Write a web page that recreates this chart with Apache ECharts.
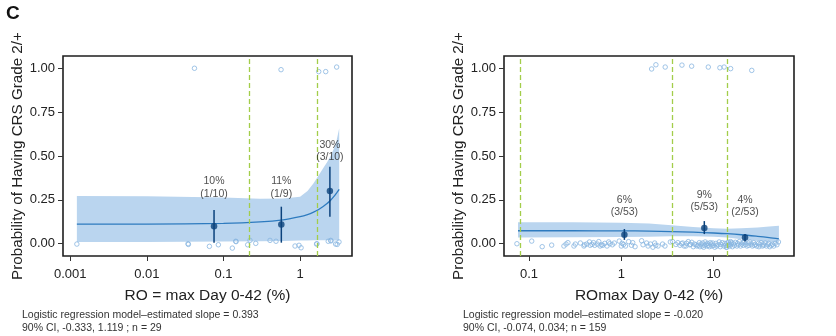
<!DOCTYPE html>
<html><head><meta charset="utf-8">
<script src="https://cdn.jsdelivr.net/npm/echarts@6/dist/echarts.min.js"></script>
<style>html,body{margin:0;padding:0;background:#fff;}#c{width:836px;height:336px;}</style>
</head><body><div id="c"></div>
<script>
// ---------- Panel 1 (left): RO = max Day 0-42 (%) ----------
const leftTicks = [0.001, 0.01, 0.1, 1];
const leftTickLabels = ['0.001', '0.01', '0.1', '1'];
const leftZeroX = [0.00122, 0.0345, 0.0348, 0.0655, 0.0857, 0.1305, 0.1445, 0.146, 0.207, 0.222, 0.264, 0.405, 0.485, 0.859, 0.968, 1.03, 1.64, 1.66, 2.33, 2.51, 2.53, 2.91, 3.22, 3.05];
const leftZeroY = [-0.002, 0.0, -0.004, -0.015, -0.006, -0.025, 0.014, 0.012, -0.006, 0.019, 0.002, 0.019, 0.014, -0.013, -0.009, -0.023, -0.002, 0.0, 0.014, 0.019, 0.016, -0.002, 0.01, -0.004];
const leftOneX = [0.0418, 0.564, 1.75, 2.16, 3.0];
const leftOneY = [1.0, 0.992, 0.981, 0.981, 1.007];
const leftFitX = [0.00122, 0.01, 0.1, 0.3, 0.6, 1.0, 1.25, 1.5, 1.75, 2.0, 2.25, 2.5, 2.75, 3.0, 3.24];
const leftFitY = [0.112, 0.112, 0.116, 0.124, 0.136, 0.154, 0.166, 0.180, 0.195, 0.212, 0.229, 0.248, 0.268, 0.290, 0.31];
const leftUpper = [0.272, 0.27, 0.264, 0.256, 0.258, 0.268, 0.30, 0.345, 0.39, 0.43, 0.465, 0.50, 0.54, 0.59, 0.658];
const leftLower = [0.010, 0.010, 0.012, 0.014, 0.016, 0.018, 0.019, 0.02, 0.02, 0.02, 0.02, 0.02, 0.019, 0.018, 0.017];
const leftBinX = [0.0753, 0.569, 2.45];
const leftBinY = [0.099, 0.11, 0.30];
const leftBinLo = [0.006, 0.006, 0.154];
const leftBinHi = [0.192, 0.211, 0.439];
const leftBinPct = ['10%', '11%', '30%'];
const leftBinFrac = ['(1/10)', '(1/9)', '(3/10)'];
const leftLabelY = [0.32, 0.32, 0.527];
const leftCuts = [0.2244, 1.675];

// ---------- Panel 2 (right): ROmax Day 0-42 (%) ----------
const rightTicks = [0.1, 1, 10];
const rightTickLabels = ['0.1', '1', '10'];
const rightZeroPts = [
 [0.074,0.0],[0.107,0.015],[0.139,-0.017],[0.176,-0.008],[0.239,-0.013],[0.252,-0.002],[0.264,0.006],[0.307,-0.013],[0.318,-0.002],[0.36,0.004],
 [0.394,-0.013],[0.40,-0.006],[0.422,-0.002],[0.452,0.01],[0.46,-0.009],[0.482,-0.004],[0.50,0.006],[0.515,-0.009],[0.552,-0.002],[0.57,0.012],
 [0.589,-0.013],[0.61,-0.006],[0.629,-0.009],[0.662,0.002],[0.70,-0.013],[0.73,0.01],[0.75,0.0],[0.80,-0.006],[0.84,0.004],[0.95,0.015],
 [1.00,-0.013],[1.02,0.002],[1.06,-0.004],[1.11,-0.013],[1.20,0.012],[1.29,-0.009],[1.33,0.006],[1.41,-0.017],[1.66,0.017],[1.72,-0.006],
 [1.88,0.004],[1.95,-0.013],[2.07,-0.002],[2.20,-0.02],[2.30,0.004],[2.36,-0.009],[2.50,-0.013],[2.80,-0.002],[2.97,-0.013],[3.40,0.010],
 [3.6,0.012],[3.9,-0.004],[4.1,0.006],[4.32,-0.009],[4.5,0.0],[4.62,0.004],[4.8,-0.013],[5.01,-0.013],[5.1,0.002],[5.31,0.012],
 [5.5,-0.006],[5.64,-0.004],[5.8,0.008],[6.02,-0.017],[6.2,-0.002],[6.44,-0.006],[6.6,-0.013],[6.82,-0.009],[7.0,0.006],[7.1,-0.017],
 [7.3,-0.002],[7.5,-0.013],[7.6,0.004],[7.8,-0.02],[8.0,-0.009],[8.1,0.01],[8.27,-0.004],[8.5,-0.013],[8.6,0.002],[8.76,-0.009],
 [9.0,-0.017],[9.2,0.006],[9.37,-0.002],[9.6,-0.013],[9.8,0.004],[10.0,-0.009],[10.3,-0.02],[10.6,0.002],[10.8,-0.013],[11.2,-0.006],
 [11.5,0.01],[11.8,-0.017],[12.0,-0.004],[12.4,0.006],[12.9,-0.013],[13.2,0.002],[13.5,-0.009],[13.7,-0.02],
 [13.9,-0.02],[14.0,0.004],[14.2,-0.009],[14.5,0.008],[14.8,-0.004],[15.0,-0.013],[15.3,0.012],[15.5,-0.002],[15.7,0.006],[16.0,-0.017],
 [16.4,0.0],[16.8,-0.009],[17.2,0.008],[17.9,-0.013],[18.2,0.002],[18.5,-0.006],[19.0,0.012],[19.6,-0.013],[20.2,-0.002],[20.8,0.006],
 [21.0,-0.009],[21.5,0.01],[22.2,-0.004],[23.0,-0.013],[23.8,0.004],[24.0,-0.009],[24.7,0.01],[25.5,-0.002],[26.3,-0.013],[27.2,0.006],
 [27.5,-0.009],[28.2,-0.004],[29.3,-0.013],[30.6,0.002],[31.0,-0.017],[31.6,-0.006],[32.7,0.006],[33.8,-0.013],[34.5,-0.002],[35.0,-0.009],
 [36.2,0.004],[37.3,-0.013],[38.8,-0.006],[39.5,0.002],[40.6,-0.017],[42.0,-0.009],[43.4,-0.004],[44.8,-0.013],[46.4,0.002],[48.5,-0.006],[50.4,0.010]
];
const rightOneX = [2.13, 2.37, 2.99, 4.54, 5.78, 8.76, 11.7, 13.0, 15.3, 25.9];
const rightOneY = [0.996, 1.02, 1.007, 1.018, 1.012, 1.007, 1.003, 1.007, 0.998, 0.988];
const rightFitX = [0.076, 0.3, 1, 2, 3.5, 6, 10, 14, 20, 30, 40, 51];
const rightFitY = [0.074, 0.074, 0.073, 0.072, 0.069, 0.066, 0.061, 0.057, 0.051, 0.042, 0.035, 0.028];
const rightUpper = [0.122, 0.122, 0.12, 0.115, 0.105, 0.095, 0.088, 0.086, 0.088, 0.093, 0.098, 0.103];
const rightLower = [0.036, 0.037, 0.038, 0.04, 0.042, 0.043, 0.040, 0.035, 0.026, 0.016, 0.011, 0.007];
const rightBinX = [1.08, 7.93, 21.9];
const rightBinY = [0.051, 0.09, 0.035];
const rightBinLo = [0.022, 0.055, 0.012];
const rightBinHi = [0.084, 0.129, 0.055];
const rightBinPct = ['6%', '9%', '4%'];
const rightBinFrac = ['(3/53)', '(5/53)', '(2/53)'];
const rightLabelY = [0.213, 0.242, 0.213];
const rightCuts = [0.080, 3.54, 13.9];

const yTicks = [0, 0.25, 0.5, 0.75, 1];

// ---------- styling ----------
const FONT = "'Liberation Sans', Arial, sans-serif";
const C_BAND = '#bad5ef', C_LINE = '#2e7bbf', C_PT = '#8ab6e1', C_DOT = '#0b427c', C_CUT = '#a3cd4a';

function zip(a, b) { return a.map((v, i) => [v, b[i]]); }

function makeX(idx, min, max, ticks, labels, name) {
  return {
    type: 'log', logBase: 10, gridIndex: idx, min: min, max: max,
    name: name, nameLocation: 'middle', nameGap: 32,
    nameTextStyle: { fontFamily: FONT, fontSize: 15.5, color: '#222' },
    axisLine: { show: false, onZero: false },
    splitLine: { show: false },
    minorTick: { show: false },
    axisTick: { show: true, length: 5, customValues: ticks, lineStyle: { color: '#333', width: 1 } },
    axisLabel: {
      customValues: ticks, margin: 12, fontFamily: FONT, fontSize: 13, color: '#222',
      formatter: function (v) {
        let i = ticks.findIndex(t => Math.abs(t - v) / t < 1e-6);
        if (i < 0) i = ticks.findIndex(t => Math.abs(Math.log10(t) - v) < 1e-6);
        return i >= 0 ? labels[i] : '';
      }
    }
  };
}
function makeY(idx) {
  return {
    type: 'value', gridIndex: idx, min: -0.07, max: 1.07,
    name: 'Probability of Having CRS Grade 2/+', nameLocation: 'middle', nameGap: 37,
    nameTextStyle: { fontFamily: FONT, fontSize: 15.2, color: '#222' },
    axisLine: { show: false, onZero: false }, splitLine: { show: false },
    axisTick: { show: true, length: 5, customValues: yTicks, lineStyle: { color: '#333', width: 1 } },
    axisLabel: { customValues: yTicks, margin: 8, fontFamily: FONT, fontSize: 13, color: '#222',
      formatter: v => Number(v).toFixed(2) }
  };
}

function panelSeries(idx, fitX, fitY, upper, lower, cuts, zeroPts, onePts, binX, binY, binLo, binHi, pct, frac, labY) {
  const s = [];
  // confidence band polygon (upper edge forward, lower edge back)
  s.push({ type: 'custom', xAxisIndex: idx, yAxisIndex: idx, data: [[fitX[0], lower[0]]], silent: true, z: 1,
    encode: { x: 0, y: 1 },
    renderItem: function (params, api) {
      const pts = [];
      for (let i = 0; i < fitX.length; i++) pts.push(api.coord([fitX[i], upper[i]]));
      for (let i = fitX.length - 1; i >= 0; i--) pts.push(api.coord([fitX[i], lower[i]]));
      return { type: 'polygon', shape: { points: pts }, style: { fill: C_BAND } };
    } });
  s.push({ type: 'line', xAxisIndex: idx, yAxisIndex: idx, data: zip(fitX, fitY), symbol: 'none', smooth: 0.3,
    lineStyle: { color: C_LINE, width: 1.3 }, silent: true, z: 2,
    markLine: { silent: true, symbol: ['none', 'none'], label: { show: false },
      lineStyle: { color: C_CUT, type: [5, 3], width: 1.3 }, data: cuts.map(c => ({ xAxis: c })) } });
  s.push({ type: 'scatter', xAxisIndex: idx, yAxisIndex: idx, data: zeroPts.concat(onePts), symbol: 'circle', symbolSize: 4.5,
    itemStyle: { color: 'rgba(0,0,0,0)', borderColor: C_PT, borderWidth: 1 }, silent: true, z: 3 });
  s.push({ type: 'custom', xAxisIndex: idx, yAxisIndex: idx, data: binX.map((x, i) => [x, binLo[i], binHi[i]]),
    encode: { x: 0, y: [1, 2] }, z: 4, silent: true,
    renderItem: function (params, api) {
      const a = api.coord([api.value(0), api.value(1)]);
      const b = api.coord([api.value(0), api.value(2)]);
      return { type: 'line', shape: { x1: a[0], y1: a[1], x2: b[0], y2: b[1] }, style: { stroke: C_DOT, lineWidth: 1.5 } };
    } });
  s.push({ type: 'scatter', xAxisIndex: idx, yAxisIndex: idx, data: zip(binX, binY), symbol: 'circle', symbolSize: 6.5,
    itemStyle: { color: C_DOT }, silent: true, z: 5 });
  s.push({ type: 'scatter', xAxisIndex: idx, yAxisIndex: idx, data: zip(binX, labY), symbolSize: 1,
    itemStyle: { color: 'rgba(0,0,0,0)' }, silent: true, z: 6,
    label: { show: true, position: 'inside', fontFamily: FONT, fontSize: 10.5, lineHeight: 12.5, color: '#222',
      formatter: p => pct[p.dataIndex] + '\n' + frac[p.dataIndex] } });
  return s;
}

const chart = echarts.init(document.getElementById('c'), null, { renderer: 'canvas' });
chart.setOption({
  animation: false,
  backgroundColor: '#fff',
  grid: [
    { left: 63, top: 56, width: 289, height: 200, show: true, borderColor: '#1e1e1e', borderWidth: 1.6, backgroundColor: 'rgba(0,0,0,0)' },
    { left: 504, top: 56, width: 290, height: 200, show: true, borderColor: '#1e1e1e', borderWidth: 1.6, backgroundColor: 'rgba(0,0,0,0)' }
  ],
  xAxis: [
    makeX(0, 0.000804, 4.76, leftTicks, leftTickLabels, 'RO = max Day 0-42 (%)'),
    makeX(1, 0.0536, 74.3, rightTicks, rightTickLabels, 'ROmax Day 0-42 (%)')
  ],
  yAxis: [makeY(0), makeY(1)],
  graphic: [
    { type: 'text', left: 6, top: 4, style: { text: 'C', font: "bold 19px " + FONT, fill: '#111' } },
    { type: 'text', left: 22, top: 309, style: { text: 'Logistic regression model\u2013estimated slope = 0.393\n90% CI, -0.333, 1.119 ; n = 29', font: "10.5px " + FONT, fill: '#333', lineHeight: 13 } },
    { type: 'text', left: 463, top: 309, style: { text: 'Logistic regression model\u2013estimated slope = -0.020\n90% CI, -0.074, 0.034; n = 159', font: "10.5px " + FONT, fill: '#333', lineHeight: 13 } }
  ],
  series: [].concat(
    panelSeries(0, leftFitX, leftFitY, leftUpper, leftLower, leftCuts, zip(leftZeroX, leftZeroY), zip(leftOneX, leftOneY),
      leftBinX, leftBinY, leftBinLo, leftBinHi, leftBinPct, leftBinFrac, leftLabelY),
    panelSeries(1, rightFitX, rightFitY, rightUpper, rightLower, rightCuts, rightZeroPts, zip(rightOneX, rightOneY),
      rightBinX, rightBinY, rightBinLo, rightBinHi, rightBinPct, rightBinFrac, rightLabelY)
  )
});
</script></body></html>
